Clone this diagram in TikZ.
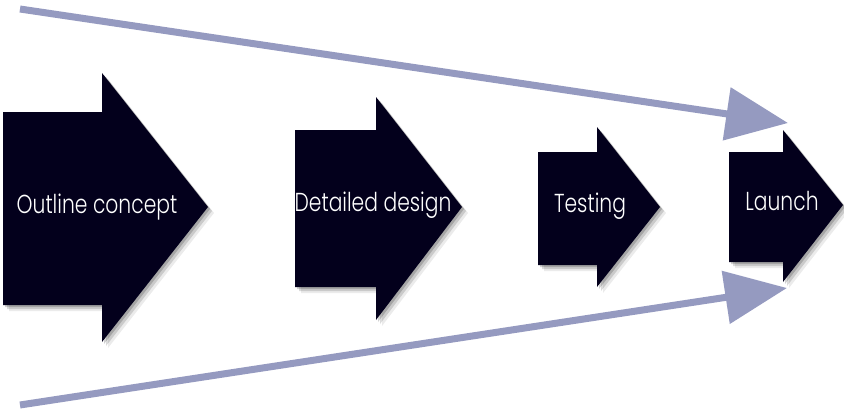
\documentclass[tikz,border=0pt]{standalone}
\usepackage{fontspec}
\setmainfont{Poppins Light}
\usetikzlibrary{shadows,arrows.meta}
\definecolor{stagefill}{HTML}{03001C}
\definecolor{flow}{HTML}{959AC0}
\newcommand{\narrowtext}[1]{\scalebox{0.78}[1]{#1}}
\begin{document}
\begin{tikzpicture}[x=1pt,y=-1pt,
  stage/.style={fill=stagefill,
    drop shadow={shadow xshift=2pt,shadow yshift=-2pt,opacity=0.18,fill=black},
    drop shadow={shadow xshift=4pt,shadow yshift=-4pt,opacity=0.14,fill=black},
    drop shadow={shadow xshift=6pt,shadow yshift=-6pt,opacity=0.08,fill=black}},
  stagetext/.style={text=white,font=\fontsize{26}{26}\selectfont,anchor=base,inner sep=0pt},
  funnel/.style={draw=flow,line width=7pt,-{Triangle[length=62pt,width=52pt]}}]
\useasboundingbox (0,0) rectangle (844,410);

% converging funnel arrows
\coordinate (topstart) at (20,9);
\coordinate (topend) at (788,123);
\coordinate (botstart) at (20,405);
\coordinate (botend) at (787,288);
\draw[funnel] (topstart) -- (topend);
\draw[funnel] (botstart) -- (botend);

% stage arrows
\path[stage] (3,112) -- (102,112) -- (102,73) -- (208,207) -- (102,342) -- (102,305) -- (3,305) -- cycle;
\path[stage] (295,130) -- (376,130) -- (376,97) -- (462,207) -- (376,320) -- (376,287) -- (295,287) -- cycle;
\path[stage] (538,152) -- (597,152) -- (597,127) -- (660,207) -- (597,287) -- (597,265) -- (538,265) -- cycle;
\path[stage] (729,152) -- (783,152) -- (783,130) -- (843,205) -- (783,282) -- (783,262) -- (729,262) -- cycle;

% stage names
\node[stagetext] (outline) at (97,213) {\narrowtext{Outline concept}};
\node[stagetext] (design) at (373,211) {\narrowtext{Detailed design}};
\node[stagetext] (testing) at (590,212) {\narrowtext{Testing}};
\node[stagetext] (launch) at (782,210) {\narrowtext{Launch}};
\end{tikzpicture}
\end{document}
